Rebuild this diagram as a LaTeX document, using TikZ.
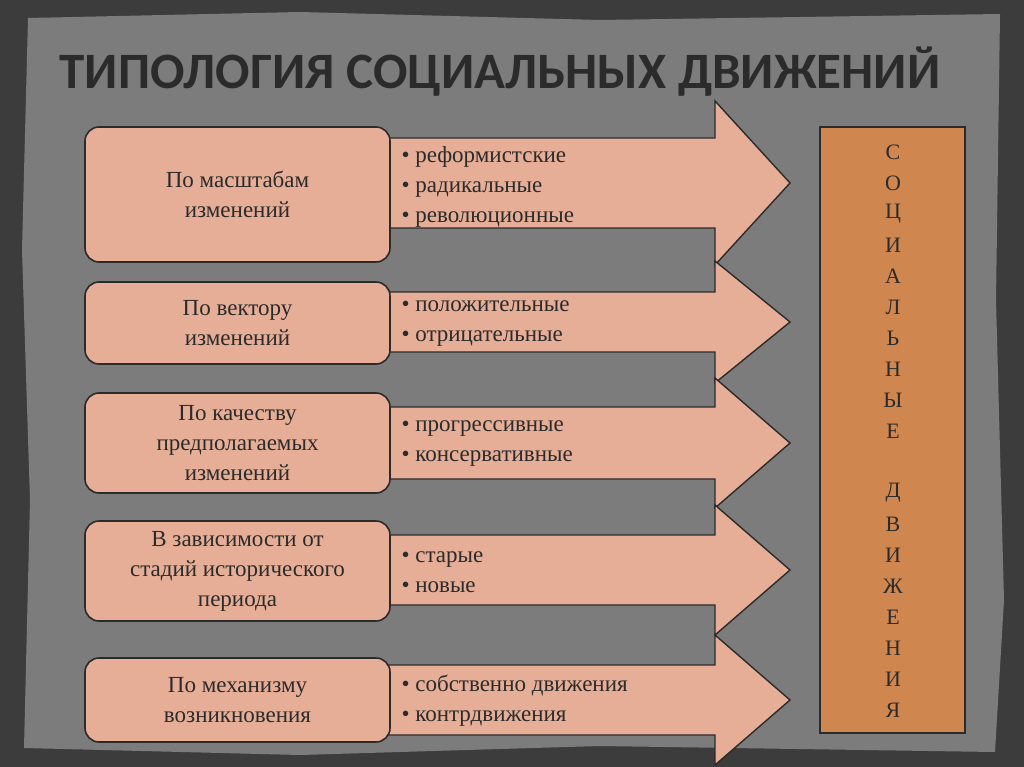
\documentclass[tikz,border=0pt]{standalone}
\usepackage{fontspec}
\setmainfont{Liberation Serif}
\newfontfamily\titlefont{Carlito}
\definecolor{outerbg}{HTML}{3C3C3C}
\definecolor{innerbg}{HTML}{7C7C7C}
\definecolor{salmon}{HTML}{E6AE97}
\definecolor{rust}{HTML}{D0874F}
\definecolor{ink}{HTML}{2B2B2B}
\tikzset{
  boxl/.style={draw=ink,line width=1.6pt,fill=salmon,rounded corners=14pt},
  arr/.style={draw=ink,line width=1.4pt,fill=salmon},
  lbl/.style={font=\fontsize{23}{30}\selectfont,text=ink,align=center},
  bul/.style={font=\fontsize{23}{30}\selectfont,text=ink,align=left,anchor=west},
}
\begin{document}
\begin{tikzpicture}[x=1pt,y=-1pt]
\fill[outerbg] (0,0) rectangle (1024,767);
\fill[innerbg] (28,18) -- (300,12) -- (600,20) -- (1000,14) -- (996,300) -- (1004,600) -- (995,752) -- (600,746) -- (300,755) -- (24,748) -- (30,500) -- (22,250) -- cycle;
\node[font=\titlefont\bfseries\fontsize{51}{56}\selectfont,text=ink] (title) at (500,72) {ТИПОЛОГИЯ СОЦИАЛЬНЫХ ДВИЖЕНИЙ};
% arrows
\foreach \yc/\bh/\hh [count=\i] in {183/45/82, 322/30/61, 443/36/65, 570/35/65, 700/35/65}{
  \draw[arr] (380,\yc-\bh) -- (715,\yc-\bh) -- (715,\yc-\hh) -- (790,\yc) -- (715,\yc+\hh) -- (715,\yc+\bh) -- (380,\yc+\bh) -- cycle;
}
\node[boxl,minimum width=305pt,minimum height=135pt] (b1) at (237.5,194.5) {};
\node[boxl,minimum width=305pt,minimum height=82pt] (b2) at (237.5,323) {};
\node[boxl,minimum width=305pt,minimum height=100pt] (b3) at (237.5,443) {};
\node[boxl,minimum width=305pt,minimum height=100pt] (b4) at (237.5,571) {};
\node[boxl,minimum width=305pt,minimum height=84pt] (b5) at (237.5,700) {};
\node[lbl] (t1) at (b1) {По масштабам\\изменений};
\node[lbl] (t2) at (b2) {По вектору\\изменений};
\node[lbl] (t3) at (b3) {По качеству\\предполагаемых\\изменений};
\node[lbl] (t4) at (b4) {В зависимости от\\стадий исторического\\периода};
\node[lbl] (t5) at (b5) {По механизму\\возникновения};
\node[bul] (l1) at (398,187) {• реформистские\\• радикальные\\• революционные};
\node[bul] (l2) at (398,324) {• положительные\\• отрицательные};
\node[bul] (l3) at (398,444) {• прогрессивные\\• консервативные};
\node[bul] (l4) at (398,572) {• старые\\• новые};
\node[bul] (l5) at (398,701) {• собственно движения\\• контрдвижения};
\node[draw=ink,line width=1.6pt,fill=rust,minimum width=145pt,minimum height=606pt] (side) at (892.5,430) {};
\foreach \ch [count=\k] in {С,О,Ц,И,А,Л,Ь,Н,Ы,Е, ,Д,В,И,Ж,Е,Н,И,Я}{
  \node[font=\fontsize{22}{25}\selectfont,text=ink] at (893,121+\k*31) {\ch};
}
\end{tikzpicture}
\end{document}
